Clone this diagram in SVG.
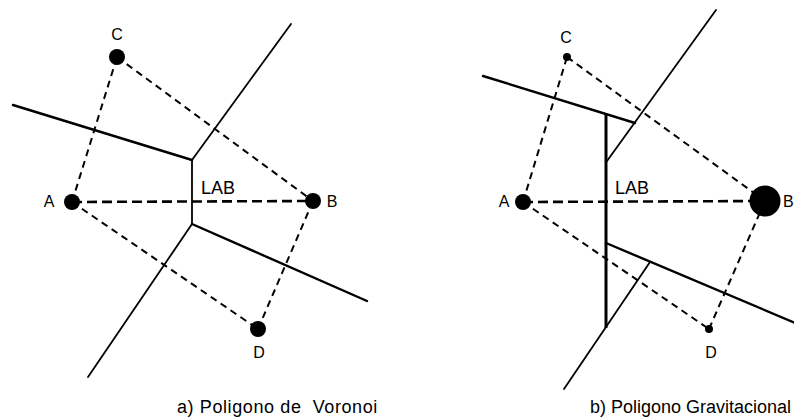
<svg xmlns="http://www.w3.org/2000/svg" width="794" height="419" viewBox="0 0 794 419">
<style>
.bd{stroke:#000;stroke-width:2.6;stroke-dasharray:10 5;fill:none}
.td{stroke:#000;stroke-width:2;stroke-dasharray:7 5;fill:none}
.sl{stroke:#000;stroke-width:2.4;fill:none;stroke-linecap:round}
.th{stroke:#000;stroke-width:1.8;fill:none;stroke-linecap:round}
.tk{stroke:#000;stroke-width:3;fill:none}
.lbl{font-family:"Liberation Sans",Arial,sans-serif;font-size:16px;fill:#000;text-anchor:middle}
.lab{font-family:"Liberation Sans",Arial,sans-serif;font-size:18px;fill:#000}
.cap{font-family:"Liberation Sans",Arial,sans-serif;font-size:18px;fill:#000;letter-spacing:0.6px}
</style>
<rect width="794" height="419" fill="#fff"/>
<g id="connectors">
<line class="bd" x1="72" y1="202" x2="313" y2="201"/>
<line class="td" x1="72" y1="202" x2="117" y2="57"/>
<line class="td" x1="117" y1="57" x2="313" y2="201"/>
<line class="td" x1="72" y1="202" x2="258" y2="329"/>
<line class="td" x1="258" y1="329" x2="313" y2="201"/>
<line class="sl" x1="13" y1="105" x2="192" y2="160"/>
<line class="th" x1="192" y1="160" x2="291" y2="24"/>
<line class="th" x1="192" y1="160" x2="192" y2="224"/>
<line class="sl" x1="192" y1="224" x2="367" y2="301"/>
<line class="th" x1="192" y1="224" x2="88" y2="377"/>
<line class="bd" x1="523" y1="202" x2="765" y2="201"/>
<line class="td" x1="523" y1="202" x2="567" y2="57"/>
<line class="td" x1="567" y1="57" x2="765" y2="201"/>
<line class="td" x1="523" y1="202" x2="709" y2="329"/>
<line class="td" x1="709" y1="329" x2="765" y2="201"/>
<line class="sl" x1="483" y1="76" x2="635" y2="123"/>
<line class="th" x1="716" y1="10" x2="607" y2="161"/>
<line class="tk" x1="606" y1="114" x2="606" y2="328"/>
<line class="sl" x1="606" y1="243" x2="800" y2="325"/>
<line class="th" x1="650" y1="262" x2="564" y2="389"/>
</g>
<g id="a-A"><circle cx="72" cy="202" r="8"/><text class="lbl" x="49" y="207">A</text></g>
<g id="a-B"><circle cx="313" cy="201" r="8"/><text class="lbl" x="332" y="207">B</text></g>
<g id="a-C"><circle cx="117" cy="57" r="8"/><text class="lbl" x="117" y="40">C</text></g>
<g id="a-D"><circle cx="258" cy="329" r="8"/><text class="lbl" x="259" y="358">D</text></g>
<g id="a-LAB"><text class="lab" x="201" y="194">LAB</text></g>
<g id="b-A"><circle cx="523" cy="202" r="8"/><text class="lbl" x="504" y="207">A</text></g>
<g id="b-B"><circle cx="765" cy="201" r="15.5"/><text class="lbl" x="783" y="207" style="text-anchor:start">B</text></g>
<g id="b-C"><circle cx="567" cy="57" r="4"/><text class="lbl" x="566" y="43">C</text></g>
<g id="b-D"><circle cx="709" cy="329" r="4"/><text class="lbl" x="711" y="358">D</text></g>
<g id="b-LAB"><text class="lab" x="615" y="194">LAB</text></g>
<g id="captions">
<text class="cap" x="177" y="413" xml:space="preserve">a) Poligono de  Voronoi</text>
<text class="cap" x="590" y="413" textLength="201" lengthAdjust="spacingAndGlyphs" style="letter-spacing:0">b) Poligono Gravitacional</text>
</g>
</svg>
